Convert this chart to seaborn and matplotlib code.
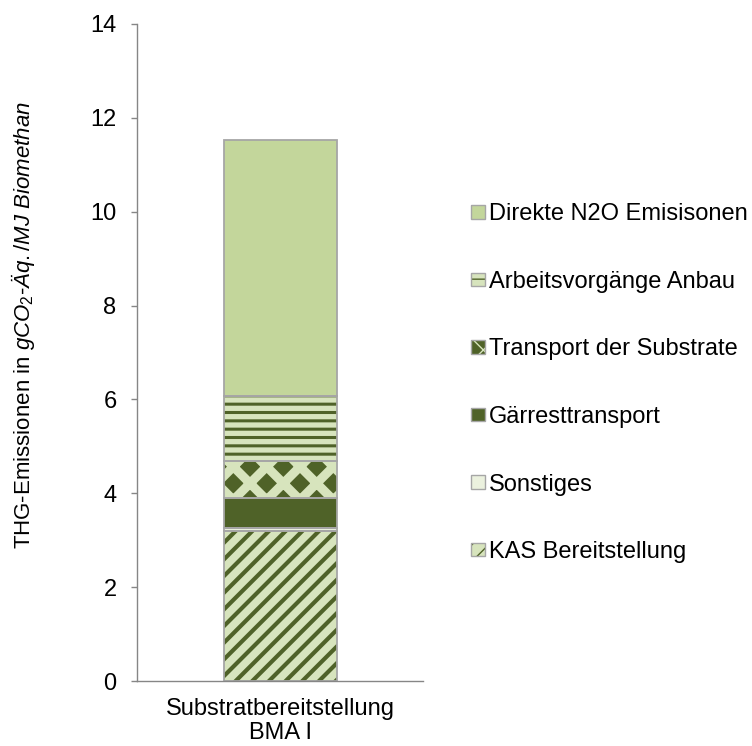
import matplotlib
matplotlib.use("Agg")
import matplotlib.pyplot as plt
from matplotlib.patches import Patch, Rectangle
import pandas as pd
import seaborn as sns

# data (stacking order bottom -> top)
category = "Substratbereitstellung\nBMA I"
segments = ["KAS Bereitstellung", "Sonstiges", "Gärresttransport",
            "Transport der Substrate", "Arbeitsvorgänge Anbau", "Direkte N2O Emisisonen"]
values = [3.20, 0.06, 0.65, 0.78, 1.38, 5.46]

dark = "#4F6228"
light = "#D7E4BD"
face_colors = [light, "#EBF1DE", dark, dark, light, "#C3D69B"]
hatch_colors = [dark, "#EBF1DE", dark, light, dark, "#C3D69B"]
hatches = ["//", None, None, "x", "--", None]
hatch_widths = [3.0, 1.0, 1.0, 6.5, 2.2, 1.0]
edge_grey = "#A6A6A6"
axis_grey = "#868686"

sns.set_style("white")
plt.rcParams["font.family"] = ["Liberation Sans", "DejaVu Sans"]
plt.rcParams["text.color"] = "black"
plt.rcParams["xtick.color"] = "black"
plt.rcParams["ytick.color"] = "black"
plt.rcParams["axes.labelcolor"] = "black"
plt.rcParams["mathtext.fontset"] = "custom"
plt.rcParams["mathtext.rm"] = "Liberation Sans"
plt.rcParams["mathtext.it"] = "Liberation Sans:italic"

df = pd.DataFrame({"Kategorie": [category] * len(segments),
                   "Segment": segments, "Wert": values})

fig = plt.figure(figsize=(7.52, 7.46), dpi=100)
ax = fig.add_axes([0.182, 0.087, 0.381, 0.881])

bottom = 0.0
for i, row in df.iterrows():
    plt.rcParams["hatch.linewidth"] = hatch_widths[i]
    sns.barplot(data=df.iloc[[i]], x="Kategorie", y="Wert", ax=ax,
                color=face_colors[i], saturation=1, width=0.395,
                errorbar=None, bottom=bottom, hatch=hatches[i],
                edgecolor=hatch_colors[i], linewidth=0)
    p = ax.patches[-1]
    if hasattr(p, "set_hatch_linewidth"):
        p.set_hatch_linewidth(hatch_widths[i])
    bottom += row["Wert"]

# grey outlines on top of each segment
for p in list(ax.patches):
    ax.add_patch(Rectangle(p.get_xy(), p.get_width(), p.get_height(),
                           fill=False, edgecolor=edge_grey, linewidth=1.3))

ax.set_xlim(-0.5, 0.5)
ax.set_ylim(0, 14)
ax.set_yticks(range(0, 15, 2))
ax.set_xticks([-0.5, 0.5], minor=True)
ax.tick_params(axis="x", which="major", length=0, pad=12, labelsize=17)
ax.tick_params(axis="x", which="minor", length=4.6, color=axis_grey, width=1)
ax.tick_params(axis="y", length=4.6, color=axis_grey, width=1, labelsize=17, pad=10, left=True)
for lab in ax.get_xticklabels():
    lab.set_linespacing(1.15)
for s in ["top", "right"]:
    ax.spines[s].set_visible(False)
for s in ["left", "bottom"]:
    ax.spines[s].set_color(axis_grey)
    ax.spines[s].set_linewidth(1)
ax.set_xlabel("")
ax.set_ylabel(r"THG-Emissionen in $gCO_{2}\text{-}Äq./MJ\ Biomethan$", fontsize=16)
ax.yaxis.set_label_coords(-0.35, 0.542)

handles = []
for i in range(len(segments)):
    h1 = Patch(facecolor=face_colors[i], hatch=hatches[i], edgecolor=hatch_colors[i], linewidth=0)
    h2 = Patch(fill=False, edgecolor=edge_grey, linewidth=1)
    handles.append((h1, h2))
fig.legend(handles[::-1], segments[::-1], loc="upper left",
           bbox_to_anchor=(0.611, 0.7433), frameon=False, fontsize=17,
           handlelength=0.59, handleheight=0.5, handletextpad=0.17,
           labelspacing=1.93, borderpad=0)

fig.savefig("out.png", dpi=100)
